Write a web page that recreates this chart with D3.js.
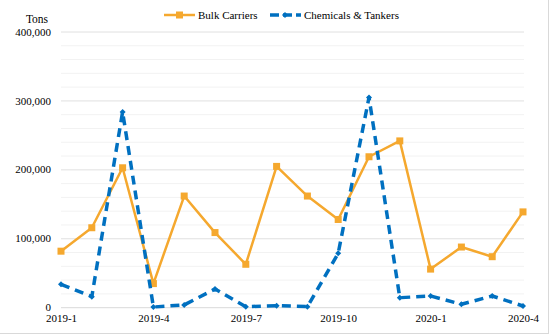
<!DOCTYPE html>
<html><head><meta charset="utf-8">
<script src="https://cdn.jsdelivr.net/npm/d3@7"></script>
<style>body{margin:0;background:#fff}svg{display:block}svg text{font-family:"Liberation Serif","Times New Roman",serif !important;fill:#000}</style>
</head><body><svg id="c" width="554" height="335"></svg>
<script>
const months = ["2019-1","2019-2","2019-3","2019-4","2019-5","2019-6","2019-7","2019-8","2019-9","2019-10","2019-11","2019-12","2020-1","2020-2","2020-3","2020-4"];
const bulkCarriers = [82000,116000,203000,35000,162000,109000,63000,205000,162000,128000,219000,242000,56000,88000,74000,139000];
const chemicalsTankers = [34000,16000,284000,1000,4000,27000,1500,3000,1500,79000,305000,14500,17000,5000,17000,2500];
const xTickLabels = ["2019-1","2019-4","2019-7","2019-10","2020-1","2020-4"];
const yMajorTicks = [0,100000,200000,300000,400000];
const yMinorTicks = d3.range(0,400001,20000);

const svg = d3.select("#c");
svg.append("rect").attr("x",-1).attr("y",-1).attr("width",549.5).attr("height",334.5)
  .attr("fill","#fff").attr("stroke","#d9d9d9").attr("stroke-width",1);

const L=61, R=523, T=32, B=307.7;
const x = d3.scalePoint().domain(months).range([L,R]).padding(0);
const y = d3.scaleLinear().domain([0,400000]).range([B,T]);

// grid
svg.append("g").selectAll("line").data(yMinorTicks.filter(v=>v%100000!==0)).join("line")
  .attr("x1",L).attr("x2",R+1).attr("y1",d=>y(d)).attr("y2",d=>y(d))
  .attr("stroke","#f2f2f2").attr("stroke-width",1);
svg.append("g").selectAll("line").data(yMajorTicks).join("line")
  .attr("x1",L).attr("x2",R+1).attr("y1",d=>y(d)).attr("y2",d=>y(d))
  .attr("stroke",d=>d===0?"#d9d9d9":"#e0e0e0").attr("stroke-width",1);

const fmt = d3.format(",");
const yAxis = d3.axisLeft(y).tickValues(yMajorTicks).tickFormat(fmt).tickSize(0).tickPadding(10);
const gy = svg.append("g").attr("transform",`translate(${L},0)`).call(yAxis);
gy.select(".domain").remove();
gy.attr("font-family",null);
gy.selectAll("text").attr("font-size",11).attr("dy","0.28em");

const xAxis = d3.axisBottom(x).tickValues(xTickLabels).tickSize(0).tickPadding(7);
const gx = svg.append("g").attr("transform",`translate(0,${B})`).call(xAxis);
gx.select(".domain").remove();
gx.attr("font-family",null);
gx.selectAll("text").attr("font-size",11);

svg.append("text").attr("x",37).attr("y",23).attr("text-anchor","middle").attr("font-size",11.5).text("Tons");

const orange = "#F5A82E", blue = "#0070C0";
const line = d3.line().x((d,i)=>x(months[i])).y(d=>y(d));

svg.append("path").datum(bulkCarriers).attr("d",line).attr("fill","none")
  .attr("stroke",orange).attr("stroke-width",2.5).attr("stroke-linejoin","round");
svg.append("g").selectAll("rect").data(bulkCarriers).join("rect")
  .attr("x",(d,i)=>x(months[i])-3.5).attr("y",d=>y(d)-3.5).attr("width",7).attr("height",7).attr("fill",orange);

svg.append("path").datum(chemicalsTankers).attr("d",line).attr("fill","none")
  .attr("stroke",blue).attr("stroke-width",3.5).attr("stroke-dasharray","9,6").attr("stroke-linejoin","round");
svg.append("g").selectAll("path").data(chemicalsTankers).join("path")
  .attr("transform",(d,i)=>`translate(${x(months[i])},${y(d)})`)
  .attr("d","M0,-3L3,0L0,3L-3,0Z").attr("fill",blue);

const lg = svg.append("g");
lg.append("line").attr("x1",164).attr("x2",195).attr("y1",15).attr("y2",15).attr("stroke",orange).attr("stroke-width",2.5);
lg.append("rect").attr("x",176).attr("y",11.5).attr("width",7).attr("height",7).attr("fill",orange);
lg.append("text").attr("x",198).attr("y",19).attr("font-size",11).text("Bulk Carriers");
lg.append("line").attr("x1",270).attr("x2",301).attr("y1",15).attr("y2",15).attr("stroke",blue).attr("stroke-width",3.5).attr("stroke-dasharray","9,4");
lg.append("path").attr("transform","translate(285,15)").attr("d","M0,-3L3,0L0,3L-3,0Z").attr("fill",blue);
lg.append("text").attr("x",304).attr("y",19).attr("font-size",11).text("Chemicals & Tankers");
</script></body></html>
